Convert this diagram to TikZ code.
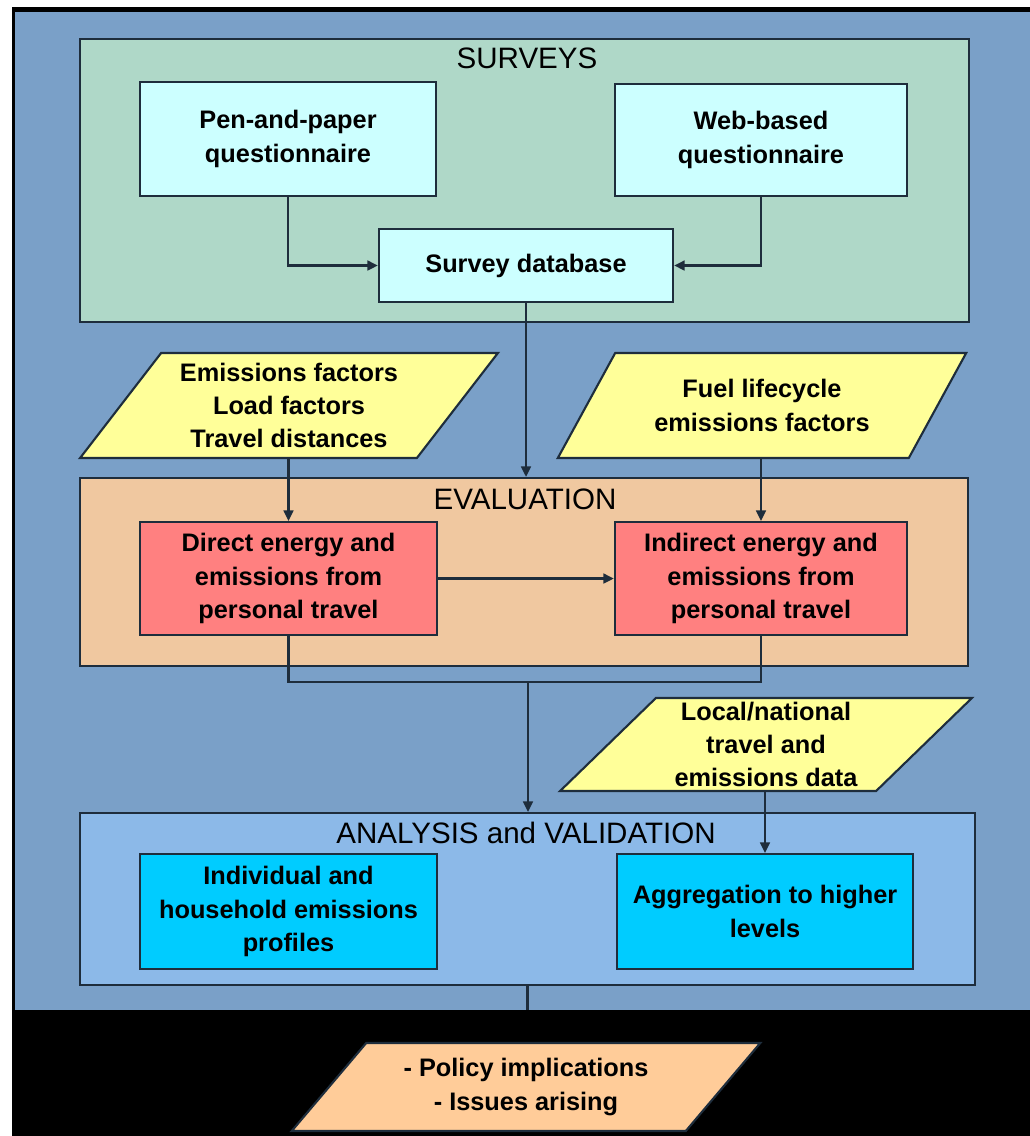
\documentclass[tikz,border=0pt]{standalone}
\usepackage{fontspec}
\setmainfont{Liberation Sans}
\usetikzlibrary{arrows.meta, shapes.geometric, positioning}

\definecolor{bgblue}{RGB}{122,160,200}
\definecolor{surveygreen}{RGB}{175,216,200}
\definecolor{boxcyan}{RGB}{204,255,255}
\definecolor{inputyellow}{RGB}{255,255,153}
\definecolor{evalpeach}{RGB}{240,200,160}
\definecolor{boxred}{RGB}{255,128,128}
\definecolor{analysisblue}{RGB}{140,185,232}
\definecolor{boxblue}{RGB}{0,204,255}
\definecolor{outputorange}{RGB}{255,204,153}
\definecolor{edge}{RGB}{30,45,60}

\begin{document}
\begin{tikzpicture}[x=0.01cm, y=-0.01cm,
  every node/.style={font=\fontsize{7.2}{9.5}\selectfont\bfseries, align=center, inner sep=0pt},
  group/.style={draw=edge, line width=0.6pt},
  title/.style={font=\fontsize{8.4}{10}\selectfont},
  box/.style={draw=edge, line width=0.6pt},
  data/.style={trapezium, trapezium stretches=true, trapezium left angle=51,
    trapezium right angle=129, draw=edge, line width=0.6pt, fill=inputyellow},
  flow/.style={line width=0.6pt, draw=edge, -{Triangle[length=3pt,width=2.8pt]}},
  link/.style={line width=0.6pt, draw=edge}]

% frame
\fill [white] (0,0) rectangle (1030,1136);
\fill [black] (12,7) rectangle (1030,1136);
\fill [bgblue] (15,12) rectangle (1030,1010);

% stages
\node [group, fill=surveygreen, minimum width=8.89cm, minimum height=2.83cm] (surveys) at (524.5,180.5) {};
\node [group, fill=evalpeach, minimum width=8.88cm, minimum height=1.88cm] (eval) at (524,572) {};
\node [group, fill=analysisblue, minimum width=8.95cm, minimum height=1.72cm] (analysis) at (527.5,899) {};

\node [title] (surveystitle) at (527,58) {SURVEYS};
\node [title] (evaltitle) at (525,499) {EVALUATION};
\node [title] (analysistitle) at (526,833) {ANALYSIS and VALIDATION};

% surveys
\node [box, fill=boxcyan, minimum width=2.96cm, minimum height=1.14cm] (pen) at (288,139) {Pen-and-paper\\questionnaire};
\node [box, fill=boxcyan, minimum width=2.92cm, minimum height=1.12cm] (web) at (761,140) {Web-based\\questionnaire};
\node [box, fill=boxcyan, minimum width=2.94cm, minimum height=0.73cm] (db) at (526,265.5) {Survey database};

% inputs
\node [data, minimum width=4.18cm, minimum height=1.05cm] (factors) at (289,405.5) {Emissions factors\\Load factors\\Travel distances};
\node [data, minimum width=4.10cm, minimum height=1.05cm] (fuel) at (762,405.5) {Fuel lifecycle\\emissions factors};
\node [data, trapezium left angle=47, trapezium right angle=133, minimum width=4.15cm, minimum height=0.93cm] (local) at (766,744.5) {Local/national\\travel and\\emissions data};

% evaluation
\node [box, fill=boxred, minimum width=2.97cm, minimum height=1.13cm] (direct) at (288.5,578.5) {Direct energy and\\emissions from\\personal travel};
\node [box, fill=boxred, minimum width=2.92cm, minimum height=1.13cm] (indirect) at (761,578.5) {Indirect energy and\\emissions from\\personal travel};

% analysis
\node [box, fill=boxblue, minimum width=2.97cm, minimum height=1.15cm] (indiv) at (288.5,911.5) {Individual and\\household emissions\\profiles};
\node [box, fill=boxblue, minimum width=2.96cm, minimum height=1.15cm] (aggr) at (765,911.5) {Aggregation to higher\\levels};

% output
\node [data, fill=outputorange, trapezium left angle=45, trapezium right angle=135, minimum width=4.69cm, minimum height=0.88cm] (policy) at (526,1087) {- Policy implications\\- Issues arising};

\coordinate (merge) at (528,682);
\coordinate (outlet) at (528,1010);

\draw [flow] (pen.south) |- (db.west);
\draw [flow] (web.south) |- (db.east);
\draw [flow] (db.south) -- (db.south |- eval.north);
\draw [flow] (direct.north |- factors.south) -- (direct.north);
\draw [flow] (indirect.north |- fuel.south) -- (indirect.north);
\draw [flow] (direct.east) -- (indirect.west);
\draw [link] (direct.south) |- (merge) -| (indirect.south);
\draw [flow] (merge) -- (merge |- analysis.north);
\draw [flow] (aggr.north |- local.south) -- (aggr.north);
\draw [link] (analysis.south) -- (analysis.south |- outlet);

\end{tikzpicture}
\end{document}
